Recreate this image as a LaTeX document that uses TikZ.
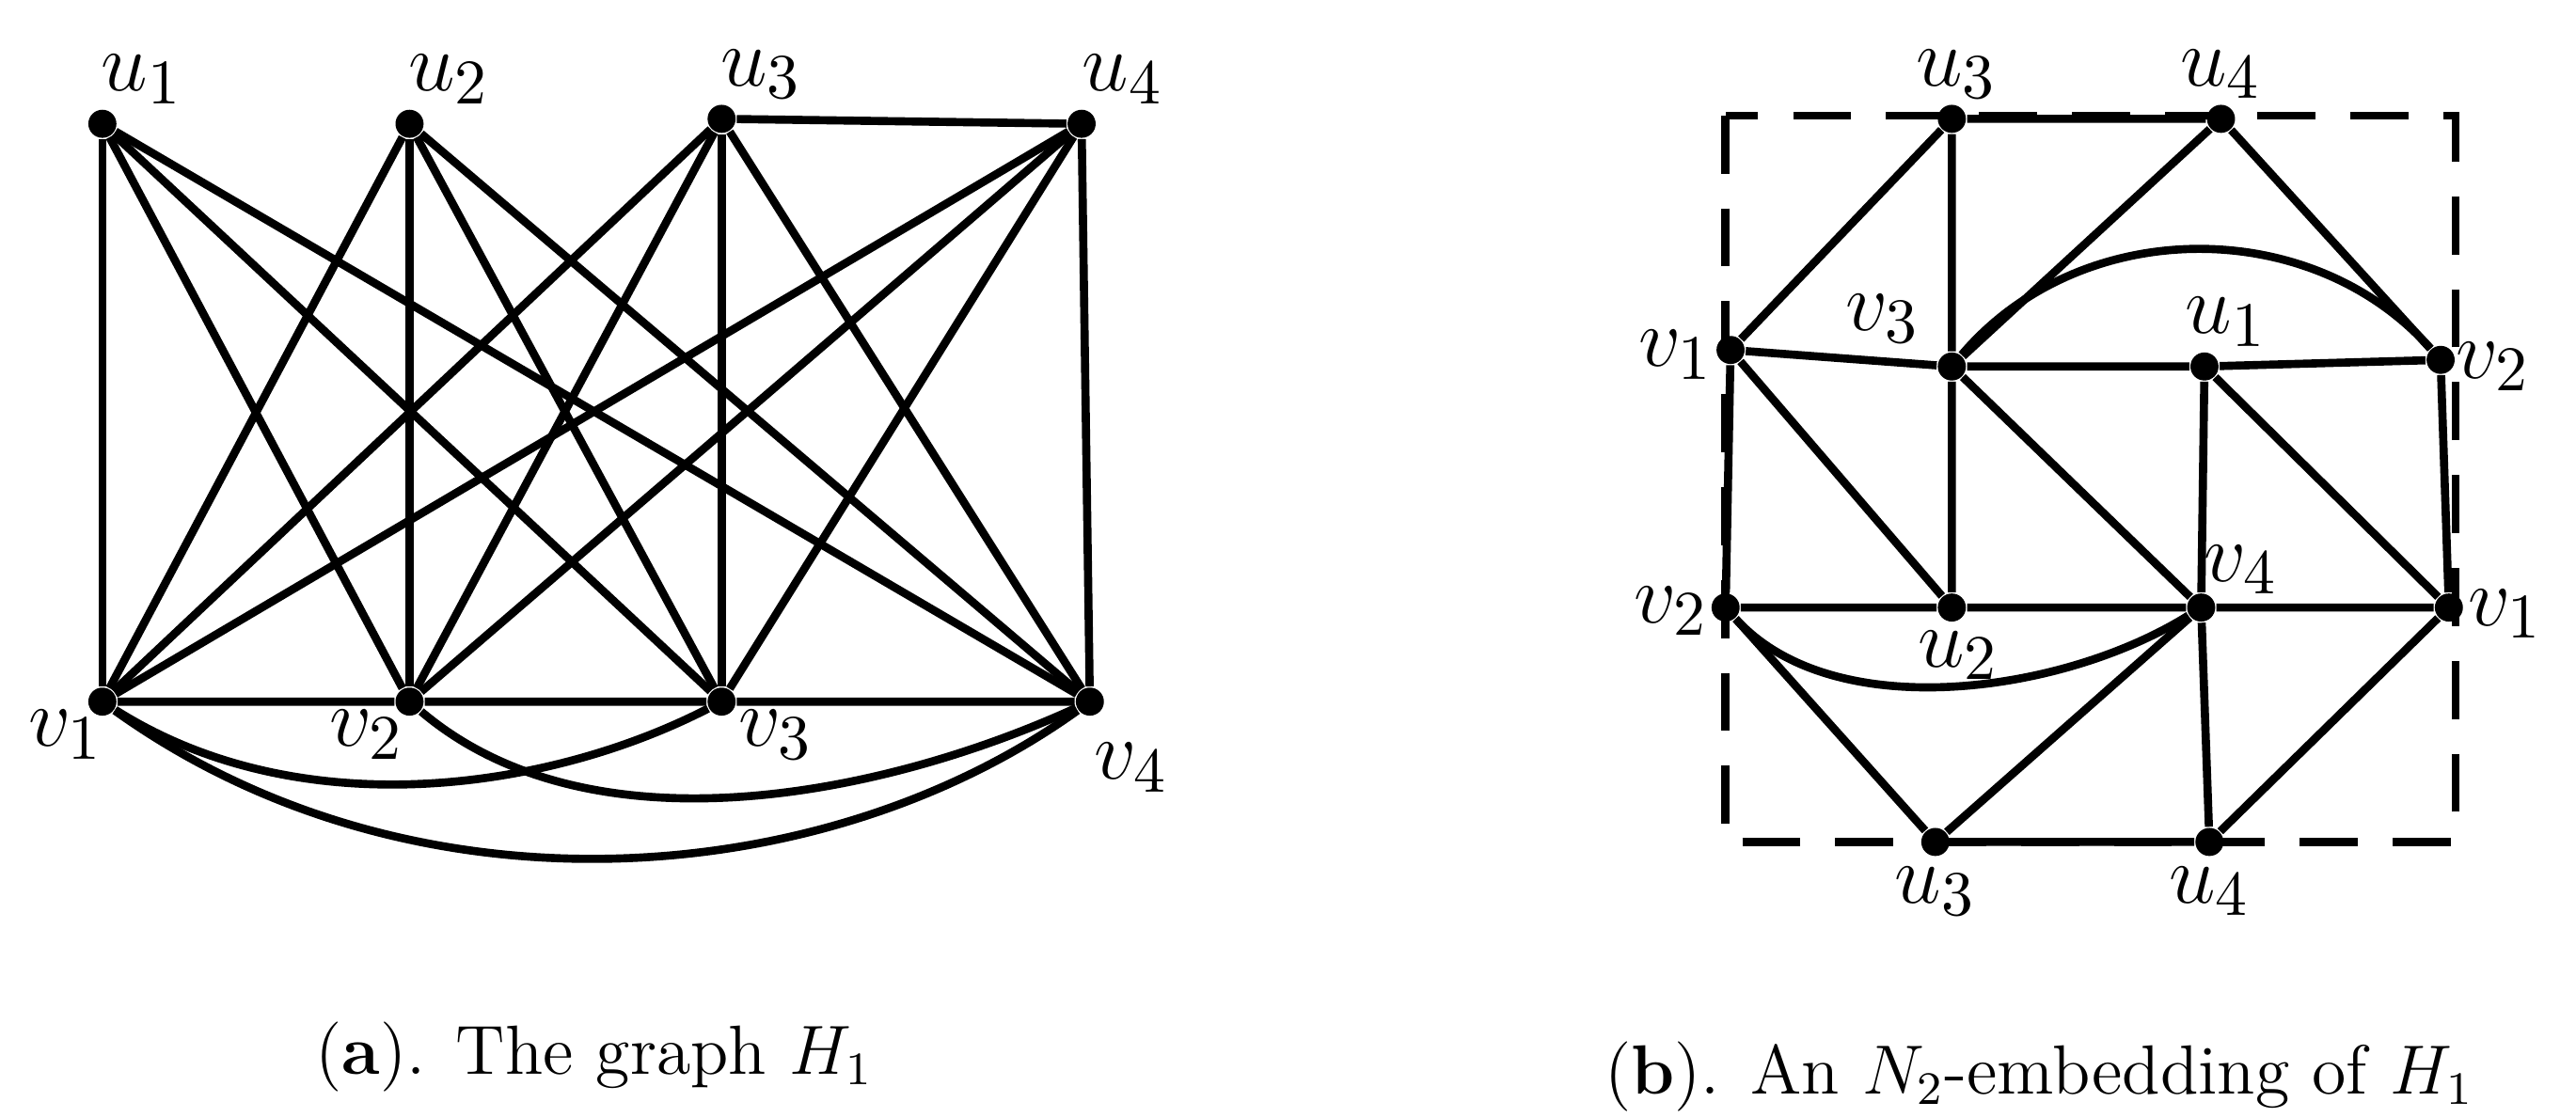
\documentclass[tikz,border=0pt]{standalone}
\begin{document}
\begin{tikzpicture}[x=0.01cm,y=-0.01cm,
  vtx/.style={circle,fill=black,inner sep=0pt,minimum size=0.17cm},
  edge/.style={line width=1.4pt},
  lbl/.style={font=\fontsize{15}{17}\selectfont},
  captxt/.style={font=\fontsize{12}{14}\selectfont}]
\useasboundingbox (0,0) rectangle (1560,677);
% ---- (a)
\node[vtx] (au1) at (62,75) {};
\node[vtx] (au2) at (248,75) {};
\node[vtx] (au3) at (437,72) {};
\node[vtx] (au4) at (655,75) {};
\node[vtx] (av1) at (62,425) {};
\node[vtx] (av2) at (248,425) {};
\node[vtx] (av3) at (437,425) {};
\node[vtx] (av4) at (660,425) {};
\foreach \u in {au1,au2,au3,au4}{\foreach \v in {av1,av2,av3,av4}{\draw[edge] (\u)--(\v);}}
\draw[edge] (au3)--(au4) (av1)--(av2)--(av3)--(av4);
\draw[edge] (av1) .. controls (180,500) and (330,480) .. (av3);
\draw[edge] (av2) .. controls (360,520) and (540,480) .. (av4);
\draw[edge] (av1) .. controls (250,560) and (500,540) .. (av4);
\node[lbl] at (86,48) {$u_1$};
\node[lbl] at (272,48) {$u_2$};
\node[lbl] at (461,45) {$u_3$};
\node[lbl] at (680,48) {$u_4$};
\node[lbl] at (40,445) {$v_1$};
\node[lbl] at (222,445) {$v_2$};
\node[lbl] at (470,445) {$v_3$};
\node[lbl] at (685,465) {$v_4$};
\node[captxt] (capa) at (360,640) {(\textbf{a}). The graph $H_1$};
% ---- (b)
\draw[edge,dash pattern=on 10pt off 6pt] (1045,70) rectangle (1487,510);
\node[vtx] (bu3t) at (1182,72) {};
\node[vtx] (bu4t) at (1345,72) {};
\node[vtx] (bv1l) at (1048,212) {};
\node[vtx] (bv3) at (1182,222) {};
\node[vtx] (bu1) at (1335,222) {};
\node[vtx] (bv2r) at (1478,218) {};
\node[vtx] (bv2l) at (1045,368) {};
\node[vtx] (bu2) at (1182,368) {};
\node[vtx] (bv4) at (1333,368) {};
\node[vtx] (bv1r) at (1483,368) {};
\node[vtx] (bu3b) at (1172,510) {};
\node[vtx] (bu4b) at (1338,510) {};
\draw[edge] (bu3t)--(bu4t) (bu3t)--(bv1l) (bu3t)--(bv3) (bu4t)--(bv3) (bu4t)--(bv2r)
  (bv1l)--(bv3) (bv3)--(bu1) (bu1)--(bv2r) (bu1)--(bv4) (bu1)--(bv1r)
  (bv1l)--(bv2l) (bv1l)--(bu2) (bv3)--(bu2) (bv3)--(bv4) (bu2)--(bv2l) (bu2)--(bv4)
  (bv4)--(bv1r) (bv2r)--(bv1r) (bv2l)--(bu3b) (bv4)--(bu3b) (bv4)--(bu4b)
  (bu3b)--(bu4b) (bu4b)--(bv1r);
\draw[edge] (bv3) .. controls (1260,130) and (1400,130) .. (bv2r);
\draw[edge] (bv2l) .. controls (1110,440) and (1250,420) .. (bv4);
\node[lbl] at (1185,45) {$u_3$};
\node[lbl] at (1345,45) {$u_4$};
\node[lbl] at (1015,215) {$v_1$};
\node[lbl] at (1140,193) {$v_3$};
\node[lbl] at (1348,195) {$u_1$};
\node[lbl] at (1510,222) {$v_2$};
\node[lbl] at (1012,370) {$v_2$};
\node[lbl] at (1186,397) {$u_2$};
\node[lbl] at (1357,345) {$v_4$};
\node[lbl] at (1517,372) {$v_1$};
\node[lbl] at (1172,540) {$u_3$};
\node[lbl] at (1338,540) {$u_4$};
\node[captxt] (capb) at (1235,652) {(\textbf{b}). An $N_2$-embedding of $H_1$};
\end{tikzpicture}
\end{document}
